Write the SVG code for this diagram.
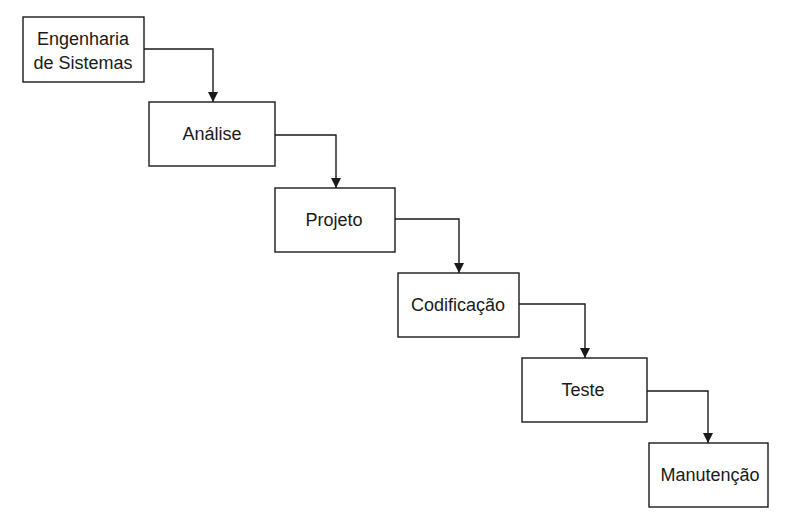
<svg xmlns="http://www.w3.org/2000/svg" width="786" height="521" viewBox="0 0 786 521">
<style>
.box{fill:#fff;stroke:#1a1a1a;stroke-width:1.4}
.lbl{font-family:"Liberation Sans",Arial,sans-serif;font-size:18px;fill:#1a1a1a;text-anchor:middle}
.con{fill:none;stroke:#1a1a1a;stroke-width:1.4}
</style>
<defs>
<marker id="ah" viewBox="0 0 10 10" refX="10" refY="5" markerWidth="10" markerHeight="10" markerUnits="userSpaceOnUse" orient="auto">
<path d="M0,0 L10,5 L0,10 Z" fill="#1a1a1a"/>
</marker>
</defs>
<rect width="786" height="521" fill="#fff"/>
<g id="connectors">
<path class="con" d="M144,49 H213 V102" marker-end="url(#ah)"/>
<path class="con" d="M275,135 H336 V188" marker-end="url(#ah)"/>
<path class="con" d="M395,219 H459 V273" marker-end="url(#ah)"/>
<path class="con" d="M519,304 H585 V358" marker-end="url(#ah)"/>
<path class="con" d="M647,391 H708 V443" marker-end="url(#ah)"/>
</g>
<g id="n1"><rect class="box" x="23" y="17" width="121" height="65"/><text class="lbl" x="83" y="45">Engenharia</text><text class="lbl" x="83" y="69">de Sistemas</text></g>
<g id="n2"><rect class="box" x="149" y="102" width="126" height="64"/><text class="lbl" x="212" y="140">Análise</text></g>
<g id="n3"><rect class="box" x="275" y="188" width="120" height="64"/><text class="lbl" x="334" y="226">Projeto</text></g>
<g id="n4"><rect class="box" x="398" y="273" width="121" height="64"/><text class="lbl" x="458" y="311">Codificação</text></g>
<g id="n5"><rect class="box" x="522" y="358" width="125" height="64"/><text class="lbl" x="583" y="396">Teste</text></g>
<g id="n6"><rect class="box" x="649" y="443" width="119" height="64"/><text class="lbl" x="710" y="481">Manutenção</text></g>
</svg>
